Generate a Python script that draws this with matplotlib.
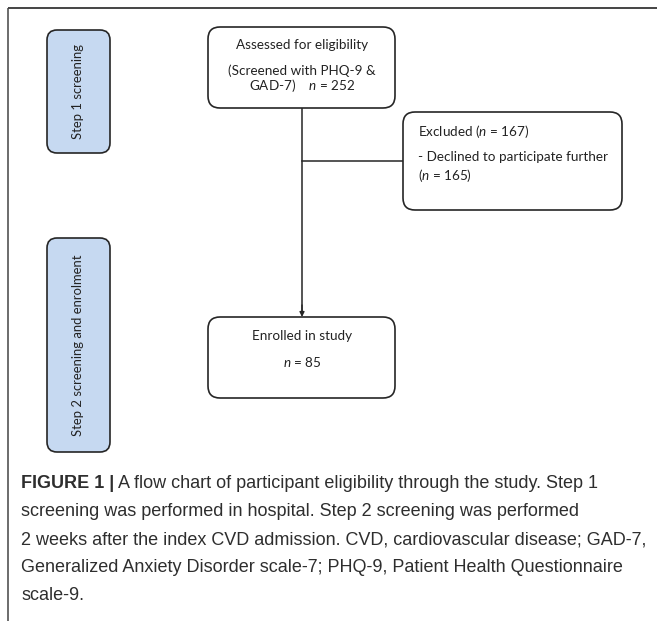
import matplotlib
matplotlib.use("Agg")
import matplotlib.pyplot as plt
from matplotlib.patches import FancyBboxPatch

plt.rcParams['mathtext.fontset'] = 'custom'
plt.rcParams['mathtext.rm'] = 'Lato'
plt.rcParams['mathtext.it'] = 'Lato:italic'

# ---- content ----
step_labels = ["Step 1 screening", "Step 2 screening and enrolment"]
assessed_lines = ["Assessed for eligibility", "(Screened with PHQ-9 &", "GAD-7)    $n$ = 252"]
excluded_lines = ["Excluded ($n$ = 167)", "- Declined to participate further", "($n$ = 165)"]
enrolled_lines = ["Enrolled in study", "$n$ = 85"]
caption_bold = "FIGURE 1 |"
caption_lines = [
    " A flow chart of participant eligibility through the study. Step 1",
    "screening was performed in hospital. Step 2 screening was performed",
    "2 weeks after the index CVD admission. CVD, cardiovascular disease; GAD-7,",
    "Generalized Anxiety Disorder scale-7; PHQ-9, Patient Health Questionnaire",
    "scale-9.",
]

W, H = 657, 621
fig = plt.figure(figsize=(W / 100, H / 100), dpi=100)
ax = fig.add_axes([0, 0, 1, 1])
ax.set_xlim(0, W)
ax.set_ylim(H, 0)
ax.axis('off')

edge = '#262626'
BOXFONT = 'Lato'
bfs = 9.7


def rbox(x0, y0, x1, y1, fc='white', r=12):
    p = FancyBboxPatch((x0, y0), x1 - x0, y1 - y0,
                       boxstyle=f"round,pad=0,rounding_size={r}",
                       fc=fc, ec=edge, lw=1.2, zorder=2)
    ax.add_patch(p)


# frame lines
ax.plot([8, W], [8, 8], color='#444444', lw=1.4, solid_capstyle='butt')
ax.plot([8, 8], [8, H], color='#444444', lw=1.1, solid_capstyle='butt')

# step boxes
rbox(47, 30, 110, 153, fc='#c6d9f1', r=10)
rbox(47, 238, 110, 452, fc='#c6d9f1', r=10)
ax.text(78.5, 91.5, step_labels[0], rotation=90, ha='center', va='center',
        family=BOXFONT, fontsize=9.4, color='#222222', zorder=3)
ax.text(78.5, 345, step_labels[1], rotation=90, ha='center', va='center',
        family=BOXFONT, fontsize=9.4, color='#222222', zorder=3)

# flow boxes
rbox(208, 27, 395, 108)
rbox(403, 112, 622, 210)
rbox(208, 317, 395, 398)

# connectors
ax.plot([302, 302], [108, 312], color=edge, lw=1.1, zorder=1)
ax.annotate('', xy=(302, 317), xytext=(302, 305),
            arrowprops=dict(arrowstyle='-|>', color=edge, lw=1.0,
                            mutation_scale=7, shrinkA=0, shrinkB=0))
ax.plot([302, 403], [161, 161], color=edge, lw=1.1, zorder=1)

# box texts
for y, s in zip([45, 71, 86], assessed_lines):
    ax.text(302, y, s, ha='center', va='center', family=BOXFONT, fontsize=bfs,
            color='#222222', zorder=3)
for y, s in zip([132, 157, 175], excluded_lines):
    ax.text(418, y, s, ha='left', va='center', family=BOXFONT, fontsize=bfs,
            color='#222222', zorder=3)
for y, s in zip([336, 362], enrolled_lines):
    ax.text(302, y, s, ha='center', va='center', family=BOXFONT, fontsize=bfs,
            color='#222222', zorder=3)

# caption
cfs = 13.0
cap_color = '#2e2e2e'
cap_font = 'Liberation Sans'
y0 = 484
dy = 28
tb = ax.text(21, y0, caption_bold, ha='left', va='center', family=cap_font,
             fontsize=cfs, fontweight='bold', color=cap_color)
fig.canvas.draw()
bb = tb.get_window_extent(fig.canvas.get_renderer())
xend = ax.transData.inverted().transform((bb.x1, bb.y0))[0]
ax.text(xend, y0, caption_lines[0], ha='left', va='center', family=cap_font,
        fontsize=cfs, color=cap_color)
for i, s in enumerate(caption_lines[1:], start=1):
    ax.text(21, y0 + i * dy, s, ha='left', va='center', family=cap_font,
            fontsize=cfs, color=cap_color)

fig.savefig('out.png', dpi=100)
